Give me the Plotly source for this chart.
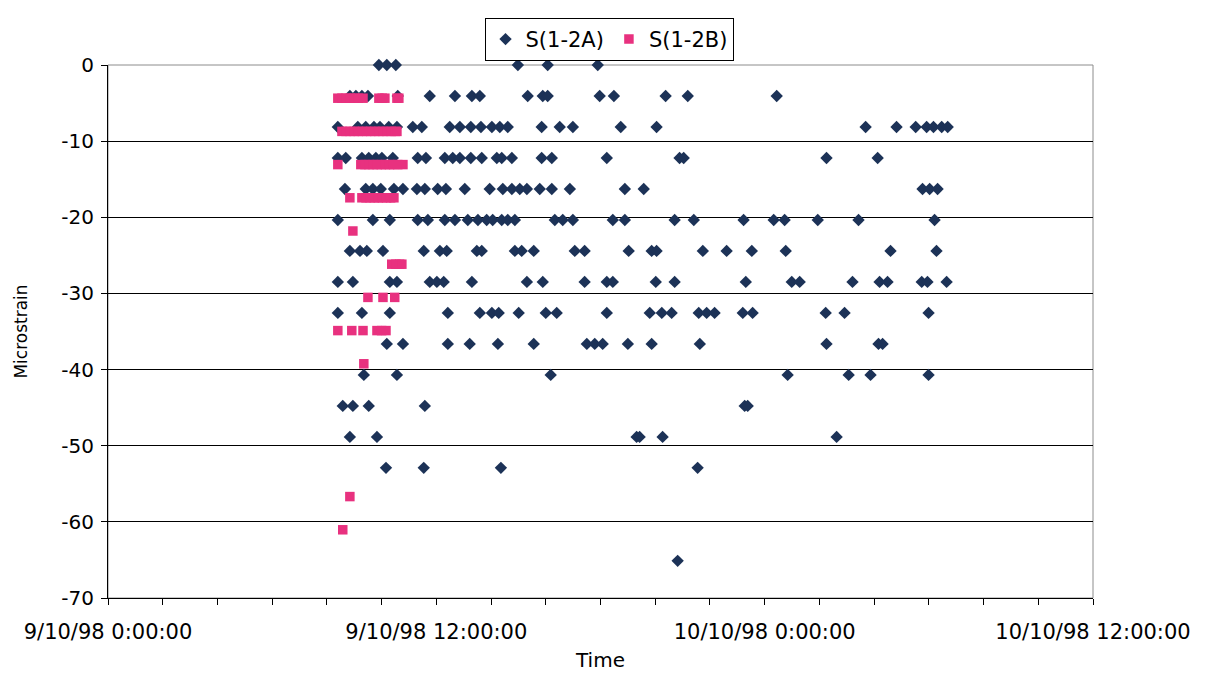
import pandas as pd
import plotly.graph_objects as go

# ---- Data (hours after 9/10/98 0:00:00, microstrain) ----
start = pd.Timestamp("1998-10-09 00:00:00")

# S(1-2A): strain levels and the times (hours) at which each level was recorded
a_levels = [0.0, -4.07, -8.14, -12.21, -16.28, -20.35, -24.42, -28.49,
            -32.56, -36.63, -40.70, -44.77, -48.84, -52.91, -65.12]
a_hours = [
    [9.90, 10.19, 10.52, 14.98, 16.07, 17.90],
    [8.84, 9.06, 9.28, 9.50, 10.59, 11.76, 12.68, 13.30, 13.59, 15.34, 15.89, 16.07,
     17.97, 18.49, 20.38, 21.19, 24.44],
    [8.40, 9.13, 9.42, 9.72, 9.94, 10.26, 10.56, 11.14, 11.47, 12.49, 12.86, 13.26,
     13.63, 14.03, 14.32, 14.61, 15.85, 16.51, 16.99, 18.74, 20.05, 27.69, 28.82,
     29.52, 29.92, 30.17, 30.47, 30.69],
    [8.40, 8.69, 9.28, 9.53, 9.79, 10.01, 10.41, 11.32, 11.62, 12.31, 12.60, 12.86,
     13.26, 13.66, 14.21, 14.39, 14.76, 15.85, 16.22, 18.23, 20.89, 21.04, 26.26, 28.13],
    [8.66, 9.42, 9.68, 9.97, 10.45, 10.78, 11.29, 11.58, 12.05, 12.35, 13.04, 13.95,
     14.43, 14.76, 15.05, 15.31, 15.78, 16.22, 16.88, 18.89, 19.58, 29.77, 30.03, 30.32],
    [8.40, 9.68, 10.30, 11.32, 11.69, 12.31, 12.68, 13.15, 13.52, 13.84, 14.06, 14.39,
     14.61, 14.87, 16.33, 16.62, 16.99, 18.45, 18.89, 20.71, 21.41, 23.23, 24.33,
     24.73, 25.94, 27.43, 30.21],
    [8.84, 9.21, 9.46, 10.05, 11.54, 12.13, 12.38, 13.48, 13.66, 14.87, 15.12, 15.56,
     17.06, 17.42, 19.03, 19.87, 20.05, 21.74, 22.61, 23.53, 24.77, 28.60, 30.28],
    [8.40, 8.95, 10.30, 10.56, 11.76, 12.02, 12.27, 13.30, 15.31, 15.89, 17.42, 18.23,
     18.45, 20.02, 20.71, 23.31, 24.99, 25.28, 27.21, 28.20, 28.49, 29.74, 29.95, 30.65],
    [8.40, 9.28, 10.30, 12.42, 13.59, 14.03, 14.28, 15.01, 16.00, 16.40, 18.23, 19.80,
     20.24, 20.60, 21.59, 21.88, 22.17, 23.20, 23.56, 26.23, 26.92, 29.99],
    [10.19, 10.78, 12.42, 13.22, 14.25, 15.56, 17.50, 17.79, 18.08, 19.00, 19.87,
     21.63, 26.26, 28.16, 28.31],
    [9.35, 10.56, 16.18, 24.84, 27.07, 27.87, 29.99],
    [8.58, 8.95, 9.53, 11.58, 23.27, 23.38],
    [8.84, 9.83, 19.32, 19.43, 20.27, 26.63],
    [10.16, 11.54, 14.36, 21.55],
    [20.82],
]

# S(1-2B)
b_levels = [-4.36, -8.72, -13.08, -17.44, -21.80, -26.16, -30.52, -34.88,
            -39.24, -56.68, -61.04]
b_hours = [
    [8.40, 8.55, 8.70, 8.85, 9.00, 9.15, 9.32, 9.90, 10.02, 10.12, 10.56, 10.63],
    [8.55, 8.70, 8.85, 9.00, 9.15, 9.30, 9.45, 9.60, 9.75, 9.90, 10.05, 10.20,
     10.35, 10.50, 10.56],
    [8.40, 9.24, 9.39, 9.54, 9.69, 9.84, 9.99, 10.14, 10.29, 10.44, 10.59, 10.78],
    [8.84, 9.28, 9.43, 9.58, 9.73, 9.88, 10.03, 10.18, 10.33, 10.45],
    [8.95],
    [10.37, 10.52, 10.66, 10.74],
    [9.50, 10.05, 10.48],
    [8.40, 8.91, 9.32, 9.83, 10.00, 10.16],
    [9.35],
    [8.84],
    [8.58],
]

y_ticks = [0, -10, -20, -30, -40, -50, -60, -70]
y_ticktext = ["0", "-10", "-20", "-30", "-40", "-50", "-60", "-70"]
x_tick_hours = list(range(0, 37, 2))
x_labels = {0: "9/10/98 0:00:00", 12: "9/10/98 12:00:00",
            24: "10/10/98 0:00:00", 36: "10/10/98 12:00:00"}


def flatten(levels, hours):
    xs, ys = [], []
    for lv, hs in zip(levels, hours):
        for h in hs:
            xs.append(start + pd.Timedelta(hours=h))
            ys.append(lv)
    return xs, ys


ax, ay = flatten(a_levels, a_hours)
bx, by = flatten(b_levels, b_hours)

fig = go.Figure()
fig.add_trace(go.Scatter(x=ax, y=ay, mode="markers", name="S(1-2A)",
                         marker=dict(symbol="diamond", size=9.5, color="#1c3257"),
                         cliponaxis=False))
fig.add_trace(go.Scatter(x=bx, y=by, mode="markers", name="S(1-2B)",
                         marker=dict(symbol="square", size=9.5, color="#e8317f"),
                         cliponaxis=False))

tickvals = [start + pd.Timedelta(hours=h) for h in x_tick_hours]
ticktext = [x_labels.get(h, "") for h in x_tick_hours]

FONT = "DejaVu Sans, Verdana, sans-serif"

# page body has an 8px margin, so the figure is 16px smaller than the window
W, H = 1189, 664

fig.update_layout(
    width=W, height=H,
    margin=dict(l=100, r=104, t=57, b=74, autoexpand=False),
    plot_bgcolor="white", paper_bgcolor="white",
    font=dict(family=FONT, size=20, color="black"),
    showlegend=True,
    legend=dict(orientation="h", xref="container", x=0.5055, xanchor="center",
                yref="container", y=0.985, yanchor="top",
                bordercolor="black", borderwidth=1, bgcolor="white",
                font=dict(size=21), itemwidth=30),
    xaxis=dict(type="date", automargin=False,
               range=[start, start + pd.Timedelta(hours=36)],
               tickvals=tickvals, ticktext=ticktext,
               tickfont=dict(size=21),
               ticks="outside", ticklen=6, tickcolor="black",
               ticklabelstandoff=9,
               showline=True, linecolor="black", linewidth=1,
               showgrid=False, zeroline=False,
               title=dict(text="Time", font=dict(size=20), standoff=20)),
    yaxis=dict(range=[-70, 0], tickvals=y_ticks, ticktext=y_ticktext, automargin=False,
               ticks="outside", ticklen=6, tickcolor="black",
               ticklabelstandoff=3,
               showline=True, linecolor="black", linewidth=1,
               showgrid=True, gridcolor="black", gridwidth=1, zeroline=False,
               title=dict(text="Microstrain", font=dict(size=17), standoff=29)),
    shapes=[dict(type="rect", xref="paper", yref="paper", x0=0, x1=1, y0=0, y1=1,
                 line=dict(color="#8c8c8c", width=1), layer="between")],
)

fig.write_html("out.html")
